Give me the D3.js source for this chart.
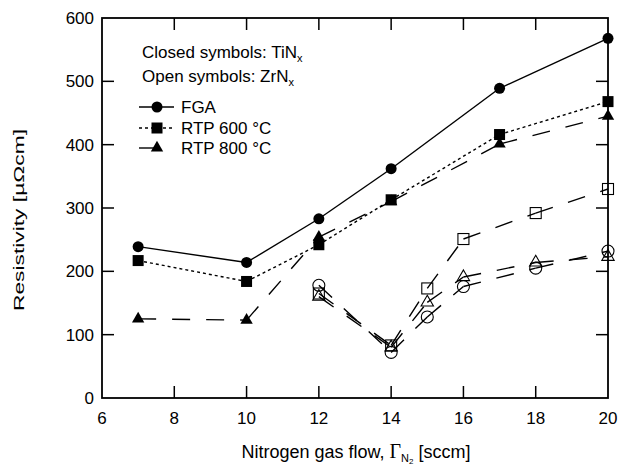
<!DOCTYPE html>
<html>
<head>
<meta charset="utf-8">
<script src="https://cdn.jsdelivr.net/npm/d3@7"></script>
<style>
  body { margin: 0; background: #fff; }
  text { font-family: "Liberation Sans", Arial, sans-serif; fill: #000; }
</style>
</head>
<body>
<div id="main-content"></div>
<script>
// x positions (sccm) and resistivity values
const tinFlow = [7, 10, 12, 14, 17, 20];
const tinFGA = [239, 214, 283, 362, 489, 568];
const tin600 = [217, 184, 242, 313, 416, 468];
const tin800 = [125, 123, 254, 310, 401, 445];

const zrFlow = [12, 14, 15, 16, 18, 20];
const zrFGA = [178, 72, 128, 176, 205, 232];
const zr600 = [165, 83, 173, 251, 292, 330];
const zr800 = [160, 80, 151, 191, 214, 223];

const xTicks = [6, 8, 10, 12, 14, 16, 18, 20];
const yTicks = [0, 100, 200, 300, 400, 500, 600];
const legendNames = ["FGA", "RTP 600 °C", "RTP 800 °C"];

const width = 620, height = 468;
const plotLeft = 102, plotRight = 608, plotTop = 18, plotBottom = 398;

const svg = d3.select("#main-content")
  .append("svg")
  .attr("width", width)
  .attr("height", height);

const x = d3.scaleLinear().domain([6, 20]).range([plotLeft, plotRight]);
const y = d3.scaleLinear().domain([0, 600]).range([plotBottom, plotTop]);

const dashes = { solid: null, dot: "3,3", dash: "18,16" };
const shapes = ["circle", "square", "triangle"];

// series list built from the arrays above
const series = [
  { xs: tinFlow, ys: tinFGA, shape: "circle", dash: "solid", open: false },
  { xs: tinFlow, ys: tin600, shape: "square", dash: "dot", open: false },
  { xs: tinFlow, ys: tin800, shape: "triangle", dash: "dash", open: false },
  { xs: zrFlow, ys: zrFGA, shape: "circle", dash: "dash", open: true },
  { xs: zrFlow, ys: zr600, shape: "square", dash: "dash", open: true },
  { xs: zrFlow, ys: zr800, shape: "triangle", dash: "dash", open: true }
];

function drawMarker(g, shape, cx, cy, open) {
  let m;
  if (shape === "circle") {
    m = g.append("circle").attr("cx", cx).attr("cy", cy).attr("r", open ? 6 : 5.5);
  } else if (shape === "square") {
    const s = 11;
    m = g.append("rect").attr("x", cx - s / 2).attr("y", cy - s / 2)
      .attr("width", s).attr("height", s);
  } else {
    const sym = d3.symbol().type(d3.symbolTriangle).size(66);
    m = g.append("path").attr("d", sym()).attr("transform", `translate(${cx},${cy})`);
  }
  if (open) m.attr("fill", "none").attr("stroke", "#000").attr("stroke-width", 1.1);
  else m.attr("fill", "#000");
}

// lines: each segment drawn on its own so dashes restart at each point
const lineG = svg.append("g");
series.forEach(s => {
  for (let i = 0; i < s.xs.length - 1; i++) {
    lineG.append("line")
      .attr("x1", x(s.xs[i])).attr("y1", y(s.ys[i]))
      .attr("x2", x(s.xs[i + 1])).attr("y2", y(s.ys[i + 1]))
      .attr("stroke", "#000")
      .attr("stroke-width", 1.4)
      .attr("stroke-dasharray", dashes[s.dash]);
  }
});

const markG = svg.append("g");
series.forEach(s => {
  s.xs.forEach((xv, i) => drawMarker(markG, s.shape, x(xv), y(s.ys[i]), s.open));
});

// axes with inward ticks on all four sides
const tick = 12;
const axisG = svg.append("g").attr("stroke", "#000").attr("stroke-width", 1.5);
axisG.append("rect")
  .attr("x", plotLeft).attr("y", plotTop)
  .attr("width", plotRight - plotLeft).attr("height", plotBottom - plotTop)
  .attr("fill", "none").attr("stroke-width", 1.8);

xTicks.slice(1, -1).forEach(t => {
  axisG.append("line").attr("x1", x(t)).attr("x2", x(t)).attr("y1", plotBottom).attr("y2", plotBottom - tick);
  axisG.append("line").attr("x1", x(t)).attr("x2", x(t)).attr("y1", plotTop).attr("y2", plotTop + tick);
});
yTicks.slice(1, -1).forEach(t => {
  axisG.append("line").attr("y1", y(t)).attr("y2", y(t)).attr("x1", plotLeft).attr("x2", plotLeft + tick);
  axisG.append("line").attr("y1", y(t)).attr("y2", y(t)).attr("x1", plotRight).attr("x2", plotRight - tick);
});

svg.append("g").selectAll("text")
  .data(xTicks)
  .join("text")
  .attr("x", d => x(d))
  .attr("y", 424)
  .attr("text-anchor", "middle")
  .attr("font-size", 17)
  .text(d => d);

svg.append("g").selectAll("text")
  .data(yTicks)
  .join("text")
  .attr("x", 94)
  .attr("y", d => y(d))
  .attr("dy", "0.36em")
  .attr("text-anchor", "end")
  .attr("font-size", 17)
  .text(d => d);

// axis titles
const xt = svg.append("text")
  .attr("x", 356).attr("y", 458)
  .attr("text-anchor", "middle")
  .attr("font-size", 18);
xt.append("tspan").text("Nitrogen gas flow, ");
xt.append("tspan").attr("font-family", "Liberation Serif, serif").attr("font-size", 20).text("Γ");
xt.append("tspan").attr("font-size", 11).attr("dy", 4).text("N");
xt.append("tspan").attr("font-size", 8).attr("dy", 2).text("2");
xt.append("tspan").attr("dy", -6).text(" [sccm]");

svg.append("text")
  .attr("transform", "translate(24,220) rotate(-90)")
  .attr("text-anchor", "middle")
  .attr("font-size", 15)
  .attr("textLength", 182)
  .attr("lengthAdjust", "spacingAndGlyphs")
  .text("Resistivity [µΩcm]");

// legend
const lg = svg.append("g");
const t1 = lg.append("text").attr("x", 142).attr("y", 58).attr("font-size", 17);
t1.append("tspan").text("Closed symbols: TiN");
t1.append("tspan").attr("font-size", 11).attr("dy", 4).text("x");
const t2 = lg.append("text").attr("x", 142).attr("y", 82).attr("font-size", 17);
t2.append("tspan").text("Open symbols: ZrN");
t2.append("tspan").attr("font-size", 11).attr("dy", 4).text("x");

const legendY = [107, 128, 148];
const legendDash = ["solid", "dot", "dash"];
legendNames.forEach((name, i) => {
  const ly = legendY[i];
  lg.append("line")
    .attr("x1", 139).attr("x2", 174).attr("y1", ly).attr("y2", ly)
    .attr("stroke", "#000").attr("stroke-width", 1.4)
    .attr("stroke-dasharray", legendDash[i] === "dash" ? "18,30" : dashes[legendDash[i]]);
  drawMarker(lg, shapes[i], 157, ly, false);
  lg.append("text")
    .attr("x", 181).attr("y", ly).attr("dy", "0.36em")
    .attr("font-size", 17)
    .text(name);
});
</script>
</body>
</html>
